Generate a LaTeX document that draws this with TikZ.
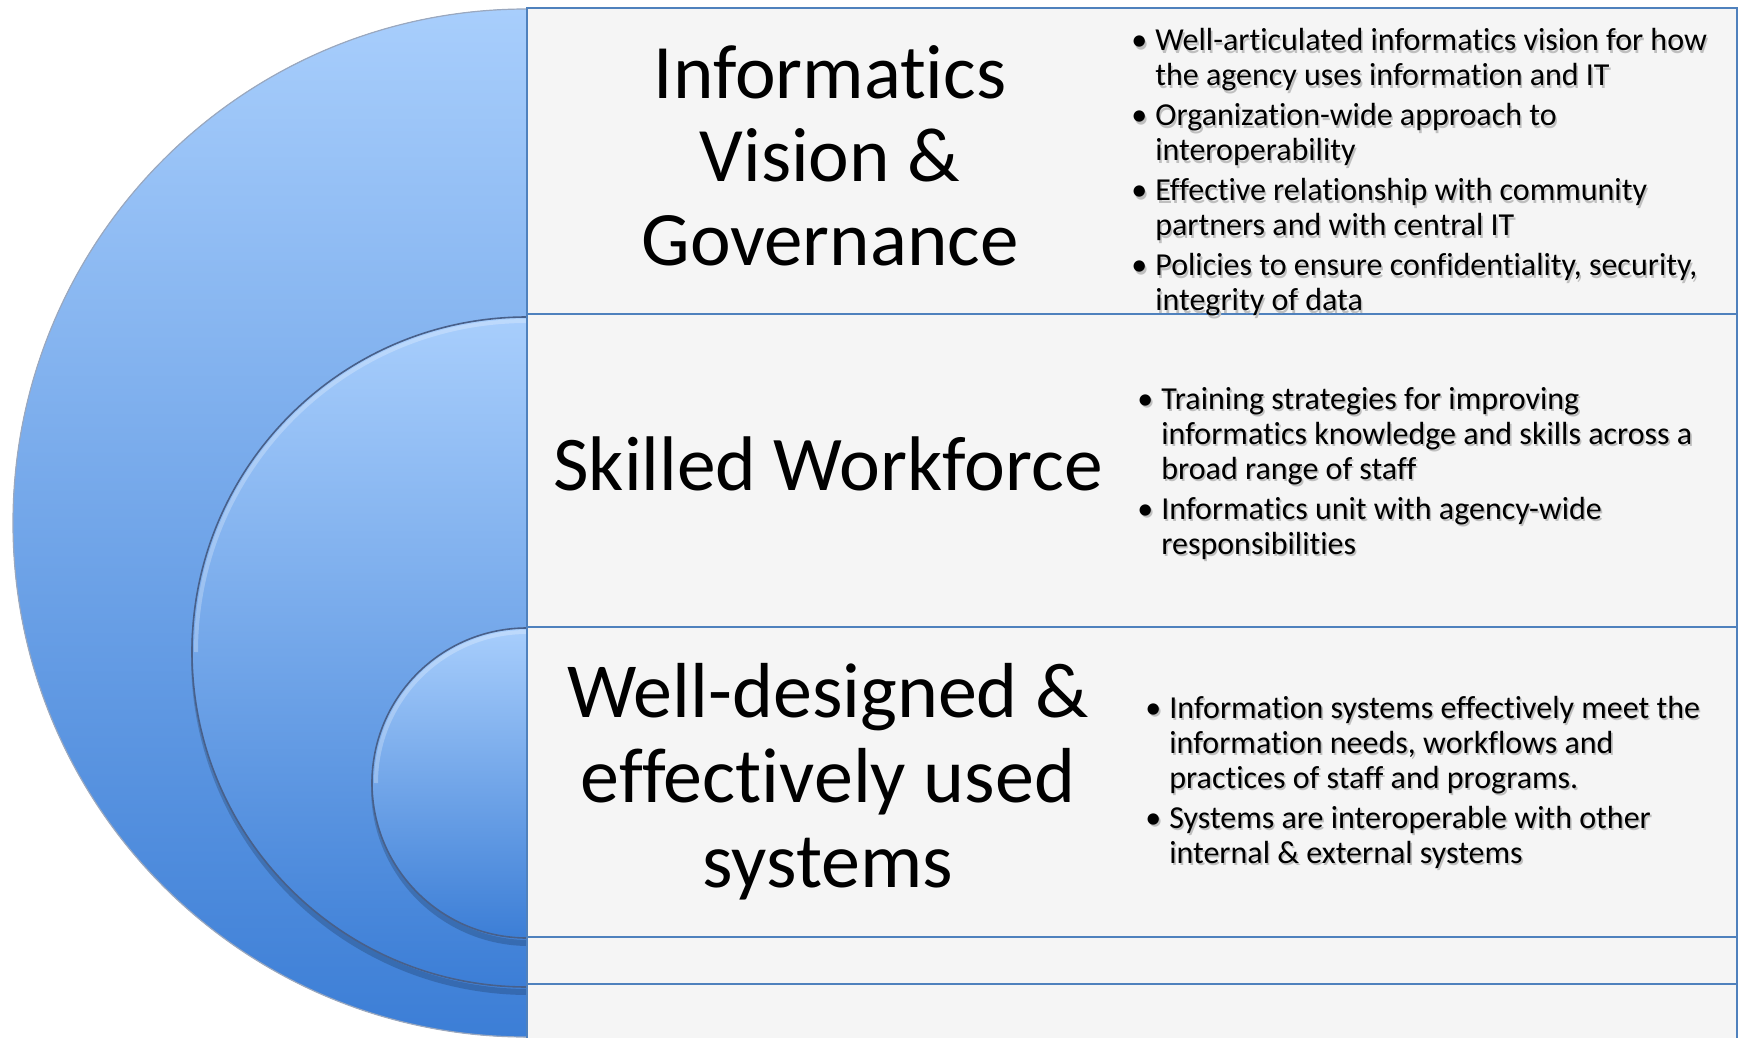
\documentclass[tikz,border=0pt]{standalone}
\usepackage{fontspec}
\setmainfont{Carlito}[Ligatures=NoCommon]
\usetikzlibrary{positioning}
\definecolor{boxFill}{RGB}{245,245,245}
\definecolor{boxLine}{RGB}{79,129,189}
\definecolor{arcTop}{RGB}{168,206,252}
\definecolor{arcBottom}{RGB}{60,126,214}
\definecolor{arcEdge}{RGB}{72,96,138}
\newcommand{\shd}[1]{\rlap{\hspace{0.8pt}\raisebox{-1.3pt}{\color{black!25}#1}}#1}
\tikzset{
  box/.style={fill=boxFill,draw=boxLine,line width=1pt},
  boxshadow/.style={top color=black!35,bottom color=boxFill,draw=none},
  arcfill/.style={top color=arcTop,bottom color=arcBottom,draw=arcEdge,line width=0.8pt},
  arcshadow/.style={draw=black,opacity=0.18,line width=3pt},
  title/.style={inner sep=0pt,anchor=base},
  bullets/.style={inner sep=0pt,anchor=base west,font=\fontsize{16}{17.5}\selectfont},
}

\begin{document}
\begin{tikzpicture}[x=0.5pt,y=-0.5pt]
\useasboundingbox (0,0) rectangle (1739,1038);
% half discs, big to small
\fill[top color=arcTop,bottom color=arcBottom] (527,9) arc[start angle=270,end angle=90,radius=514] -- cycle;
\draw[arcEdge!55,line width=0.6pt] (527,9) arc[start angle=270,end angle=90,radius=514];
\draw[arcshadow] (529,322) arc[start angle=270,end angle=90,radius=335];
\draw[arcfill] (527,317) arc[start angle=270,end angle=90,radius=335];
\draw[white,opacity=0.25,line width=2pt] (527,321) arc[start angle=270,end angle=180,radius=331];
\draw[arcshadow] (529,633) arc[start angle=270,end angle=90,radius=155];
\draw[arcfill] (527,628) arc[start angle=270,end angle=90,radius=155];
\draw[white,opacity=0.25,line width=2pt] (527,632) arc[start angle=270,end angle=180,radius=151];
% boxes, bottom one first so each shadow falls on the box below
\fill[box] (527,984) rectangle (1737,1060);
\fill[boxshadow] (527,937) rectangle (1737,946);
\draw[box] (527,937) rectangle (1737,984);
\fill[boxshadow] (527,627) rectangle (1737,636);
\draw[box] (527,627) rectangle (1737,937);
\fill[boxshadow] (527,314) rectangle (1737,323);
\draw[box] (527,314) rectangle (1737,627);
\draw[box] (527,8) rectangle (1737,314);
\draw[boxLine,line width=1pt] (527,984) -- (527,1040);
\draw[boxLine,line width=1pt] (1737,984) -- (1737,1040);
% titles
\node[title,font=\fontsize{38.5}{41.75}\selectfont] (vision) at (830,98)
  {\begin{tabular}[t]{@{}c@{}}Informatics\\ Vision \&\\ Governance\end{tabular}};
\node[title,font=\fontsize{38.7}{42.5}\selectfont] (workforce) at (828,490) {Skilled Workforce};
\node[title,font=\fontsize{39}{42.5}\selectfont] (systems) at (828,717)
  {\begin{tabular}[t]{@{}c@{}}Well-designed \&\\ effectively used\\ systems\end{tabular}};
% bullet lists
\node[bullets] (visionlist) at (1131,51) {\begin{tabular}[t]{@{}l@{\hspace{4pt}}l@{}}
\shd{\textbullet} & \shd{Well-articulated informatics vision for how}\\
 & \shd{the agency uses information and IT}\\[2.5pt]
\shd{\textbullet} & \shd{Organization-wide approach to}\\
 & \shd{interoperability}\\[2.5pt]
\shd{\textbullet} & \shd{Effective relationship with community}\\
 & \shd{partners and with central IT}\\[2.5pt]
\shd{\textbullet} & \shd{Policies to ensure confidentiality, security,}\\
 & \shd{integrity of data}
\end{tabular}};
\node[bullets] (workforcelist) at (1137,409) {\begin{tabular}[t]{@{}l@{\hspace{4pt}}l@{}}
\shd{\textbullet} & \shd{Training strategies for improving}\\
 & \shd{informatics knowledge and skills across a}\\
 & \shd{broad range of staff}\\[2.5pt]
\shd{\textbullet} & \shd{Informatics unit with agency-wide}\\
 & \shd{responsibilities}
\end{tabular}};
\node[bullets] (systemslist) at (1145,718) {\begin{tabular}[t]{@{}l@{\hspace{4pt}}l@{}}
\shd{\textbullet} & \shd{Information systems effectively meet the}\\
 & \shd{information needs, workflows and}\\
 & \shd{practices of staff and programs.}\\[2.5pt]
\shd{\textbullet} & \shd{Systems are interoperable with other}\\
 & \shd{internal \& external systems}
\end{tabular}};
\end{tikzpicture}
\end{document}
